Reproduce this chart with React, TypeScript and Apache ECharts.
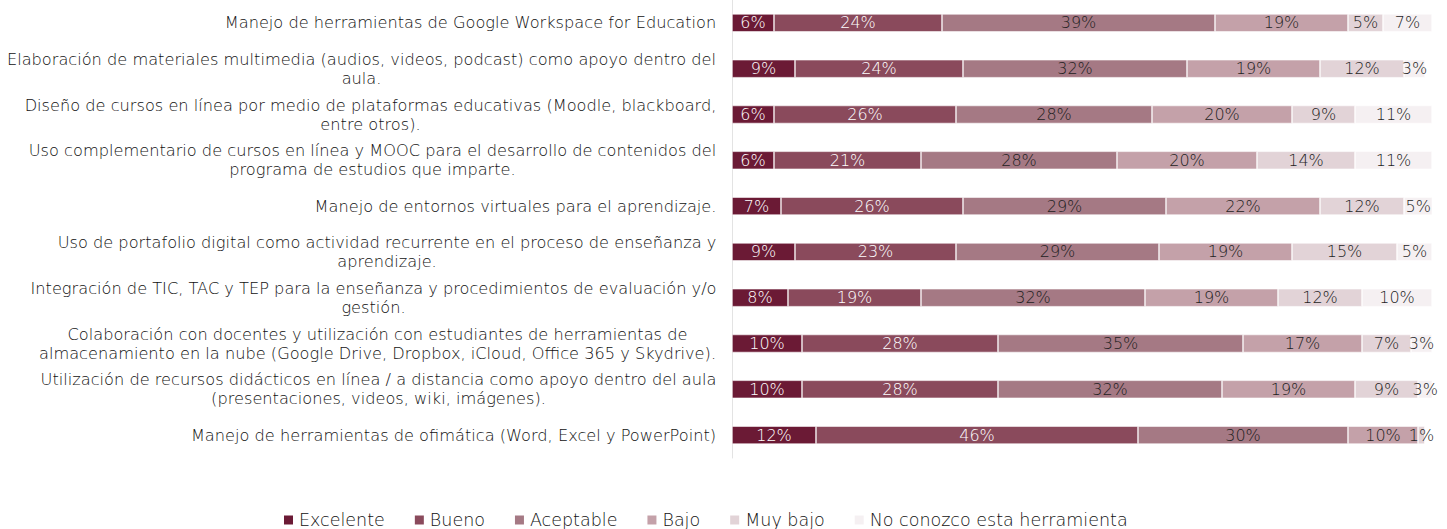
import React, { useEffect, useRef } from "react";
import * as echarts from "echarts";

const categories = [
  "Manejo de herramientas de Google Workspace for Education",
  "Elaboración de materiales multimedia (audios, videos, podcast) como apoyo dentro del\naula.",
  "Diseño de cursos en línea por medio de plataformas educativas (Moodle, blackboard,\nentre otros).",
  "Uso complementario de cursos en línea y MOOC para el desarrollo de contenidos del\nprograma de estudios que imparte.",
  "Manejo de entornos virtuales para el aprendizaje.",
  "Uso de portafolio digital como actividad recurrente en el proceso de enseñanza y\naprendizaje.",
  "Integración de TIC, TAC y TEP para la enseñanza y procedimientos de evaluación y/o\ngestión.",
  "Colaboración con docentes y utilización con estudiantes de herramientas de\nalmacenamiento en la nube (Google Drive, Dropbox, iCloud, Office 365 y Skydrive).",
  "Utilización de recursos didácticos en línea / a distancia como apoyo dentro del aula\n(presentaciones, videos, wiki, imágenes).",
  "Manejo de herramientas de ofimática (Word, Excel y PowerPoint)",
];

const seriesNames = ["Excelente", "Bueno", "Aceptable", "Bajo", "Muy bajo", "No conozco esta herramienta"];

const excelente = [6, 9, 6, 6, 7, 9, 8, 10, 10, 12];
const bueno = [24, 24, 26, 21, 26, 23, 19, 28, 28, 46];
const aceptable = [39, 32, 28, 28, 29, 29, 32, 35, 32, 30];
const bajo = [19, 19, 20, 20, 22, 19, 19, 17, 19, 10];
const muyBajo = [5, 12, 9, 14, 12, 15, 12, 7, 9, 1];
const noConozco = [7, 3, 11, 11, 5, 5, 10, 3, 3, 0];

const seriesValues = [excelente, bueno, aceptable, bajo, muyBajo, noConozco];
const colors = ["#6b1a35", "#8a4a5c", "#a57984", "#c4a1a9", "#e2d3d7", "#f5f0f2"];
const labelColors = ["#ffffff", "#ffffff", "#1e1e1e", "#1e1e1e", "#1e1e1e", "#1e1e1e"];

const FONT = '"DejaVu Sans", sans-serif';
const CAT_SIZE = 16.2;

export default function App() {
  const ref = useRef<HTMLDivElement>(null);
  useEffect(() => {
    if (!ref.current) return;
    const chart = echarts.init(ref.current, null, { renderer: "svg" });

    const canvas = document.createElement("canvas");
    const ctx = canvas.getContext("2d")!;
    ctx.font = `300 ${CAT_SIZE}px ${FONT}`;
    const rich: Record<string, any> = {};
    categories.forEach((c, i) => {
      const w = Math.max(...c.split("\n").map((l) => ctx.measureText(l).width));
      rich["c" + i] = {
        width: Math.ceil(w) + 1,
        align: "center",
        fontSize: CAT_SIZE,
        fontFamily: FONT,
        fontWeight: 300,
        color: "#111",
        lineHeight: 19,
      };
    });

    chart.setOption({
      animation: false,
      textStyle: { fontFamily: FONT },
      grid: { left: 732, right: 15, top: -5, bottom: 71 },
      legend: {
        bottom: 0,
        left: 277,
        padding: [0, 5, 0, 5],
        itemWidth: 11,
        itemHeight: 11,
        itemGap: 28,
        icon: "rect",
        textStyle: { fontSize: 17.5, color: "#111", fontFamily: FONT, fontWeight: 300 },
        data: seriesNames,
      },
      xAxis: {
        type: "value",
        min: 0,
        max: 100,
        show: false,
      },
      yAxis: {
        type: "category",
        inverse: true,
        data: categories,
        axisLine: { show: true, lineStyle: { color: "#e3e3e3" } },
        axisTick: { show: false },
        axisLabel: {
          margin: 15,
          formatter: (v: string, i: number) =>
            v
              .split("\n")
              .map((l) => `{c${i}|${l}}`)
              .join("\n"),
          rich,
        },
      },
      series: seriesValues.map((vals, si) => ({
        name: seriesNames[si],
        type: "bar",
        stack: "total",
        barWidth: 18,
        data: vals,
        itemStyle: { color: colors[si], borderColor: "#ffffff", borderWidth: 0.6 },
        label: {
          show: true,
          position: "inside",
          color: labelColors[si],
          fontSize: 16,
          fontFamily: FONT,
          fontWeight: 200,
          formatter: (p: any) => (p.value ? p.value + "%" : ""),
        },
      })),
    });
    return () => chart.dispose();
  }, []);
  return (
    <div
      ref={ref}
      style={{ position: "absolute", left: 0, top: 0, width: 1447, height: 529 }}
    />
  );
}
